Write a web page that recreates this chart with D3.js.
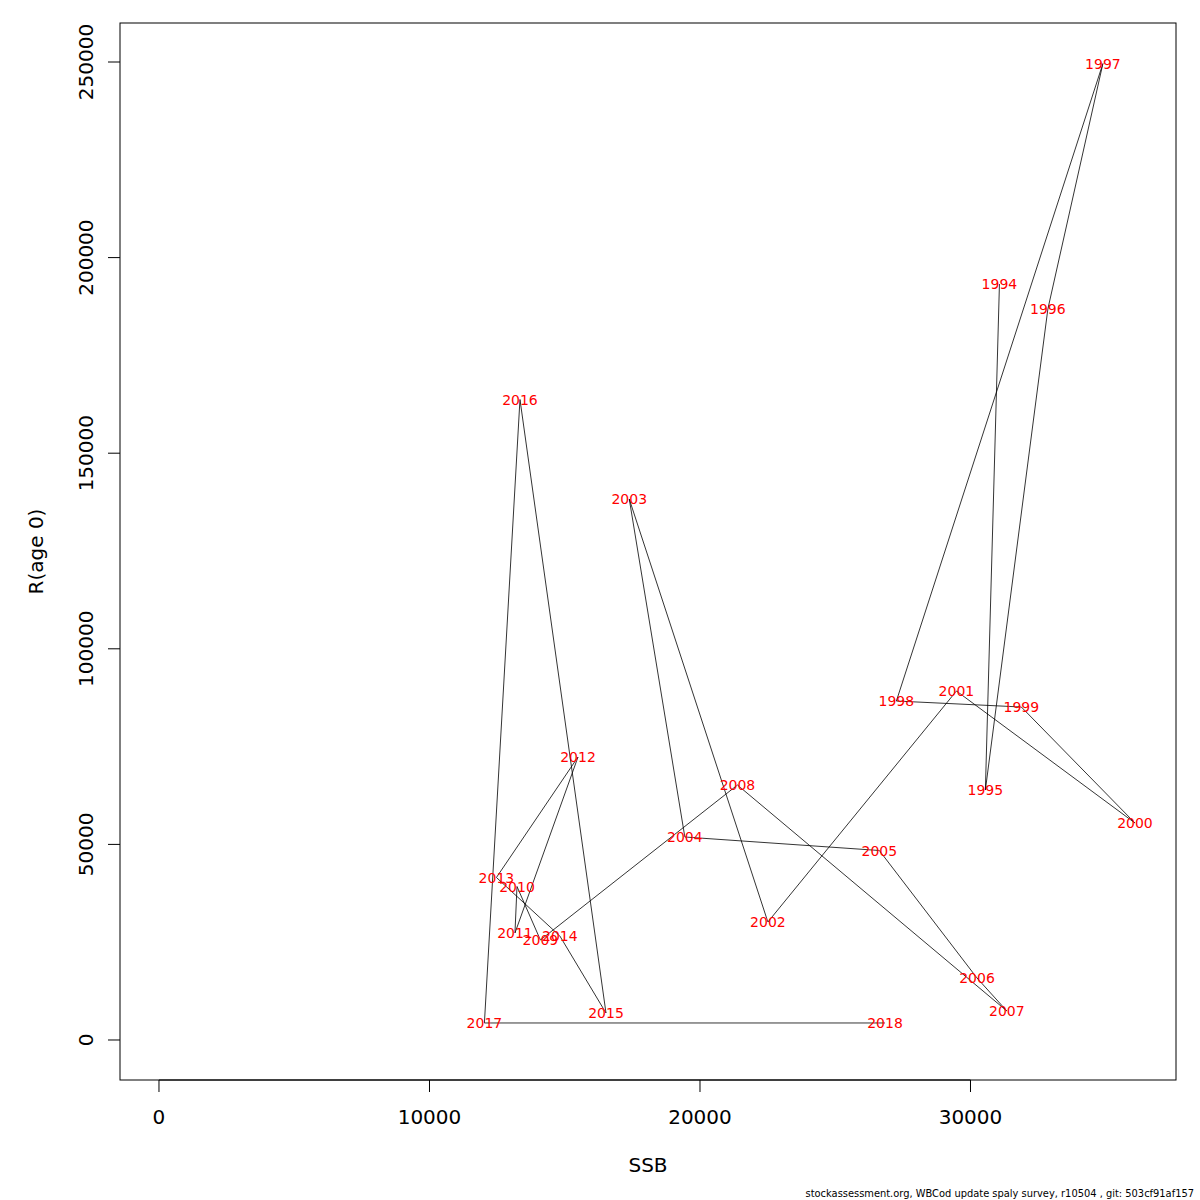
<!DOCTYPE html>
<html>
<head>
<meta charset="utf-8">
<script src="https://cdn.jsdelivr.net/npm/d3@7"></script>
<style>
  body { margin: 0; background: #fff; }
  svg text { font-family: "DejaVu Sans", sans-serif; }
</style>
</head>
<body>
<div id="chart"></div>
<script>
// Stock-recruitment trajectory, one point per year
const years = [1994, 1995, 1996, 1997, 1998, 1999, 2000, 2001, 2002, 2003, 2004, 2005,
  2006, 2007, 2008, 2009, 2010, 2011, 2012, 2013, 2014, 2015, 2016, 2017, 2018];
const ssb = [31070, 30550, 32860, 34895, 27260, 31880, 36080, 29480, 22510, 17385, 19440, 26630,
  30240, 31345, 21385, 14100, 13235, 13160, 15490, 12475, 14820, 16525, 13345, 12030, 26840];
const recruits = [193250, 63900, 186860, 249610, 86650, 85120, 55470, 89210, 30160, 138290, 51890, 48440,
  15850, 7410, 65180, 25560, 39240, 27350, 72340, 41540, 26580, 6900, 163730, 4350, 4350];

const xTicks = [0, 10000, 20000, 30000];
const yTicks = [0, 50000, 100000, 150000, 200000, 250000];

const width = 1200, height = 1200;
const plotLeft = 120, plotRight = 1176, plotTop = 23, plotBottom = 1080;

const svg = d3.select('#chart').append('svg')
  .attr('width', width)
  .attr('height', height);

// R style: data range padded by 4%
const x = d3.scaleLinear().domain([-1441, 37597]).range([plotLeft, plotRight]);
const y = d3.scaleLinear().domain([-10225, 259970]).range([plotBottom, plotTop]);

// box
svg.append('rect')
  .attr('x', plotLeft).attr('y', plotTop)
  .attr('width', plotRight - plotLeft).attr('height', plotBottom - plotTop)
  .attr('fill', 'none').attr('stroke', '#000').attr('stroke-width', 1);

// x axis
const xAxis = svg.append('g');
xAxis.append('line')
  .attr('x1', x(xTicks[0])).attr('x2', x(xTicks[xTicks.length - 1]))
  .attr('y1', plotBottom).attr('y2', plotBottom)
  .attr('stroke', '#000');
xAxis.selectAll('.xt').data(xTicks).enter().append('line')
  .attr('x1', d => x(d)).attr('x2', d => x(d))
  .attr('y1', plotBottom).attr('y2', plotBottom + 12)
  .attr('stroke', '#000');
xAxis.selectAll('.xl').data(xTicks).enter().append('text')
  .attr('x', d => x(d)).attr('y', 1124)
  .attr('text-anchor', 'middle')
  .attr('font-size', 20)
  .text(d => d);

// y axis
const yAxis = svg.append('g');
yAxis.selectAll('.yt').data(yTicks).enter().append('line')
  .attr('x1', plotLeft - 12).attr('x2', plotLeft)
  .attr('y1', d => y(d)).attr('y2', d => y(d))
  .attr('stroke', '#000');
yAxis.selectAll('.yl').data(yTicks).enter().append('text')
  .attr('transform', d => `translate(93,${y(d)}) rotate(-90)`)
  .attr('text-anchor', 'middle')
  .attr('font-size', 20)
  .text(d => d);

// axis titles
svg.append('text')
  .attr('x', (plotLeft + plotRight) / 2).attr('y', 1172)
  .attr('text-anchor', 'middle')
  .attr('font-size', 20)
  .text('SSB');
svg.append('text')
  .attr('transform', `translate(43,${(plotTop + plotBottom) / 2}) rotate(-90)`)
  .attr('text-anchor', 'middle')
  .attr('font-size', 20)
  .text('R(age 0)');

// trajectory
const pts = years.map((yr, i) => ({ year: yr, s: ssb[i], r: recruits[i] }));
const line = d3.line().x(d => x(d.s)).y(d => y(d.r));
svg.append('path')
  .datum(pts)
  .attr('d', line)
  .attr('fill', 'none')
  .attr('stroke', '#000')
  .attr('stroke-width', 0.8);

svg.selectAll('.yr').data(pts).enter().append('text')
  .attr('x', d => x(d.s))
  .attr('y', d => y(d.r))
  .attr('dy', '0.38em')
  .attr('text-anchor', 'middle')
  .attr('font-size', 14)
  .attr('fill', '#ff0000')
  .text(d => d.year);

// footer
svg.append('text')
  .attr('x', 1194).attr('y', 1197)
  .attr('text-anchor', 'end')
  .attr('font-size', 9.9)
  .text('stockassessment.org, WBCod update spaly survey, r10504 , git: 503cf91af157');
</script>
</body>
</html>
